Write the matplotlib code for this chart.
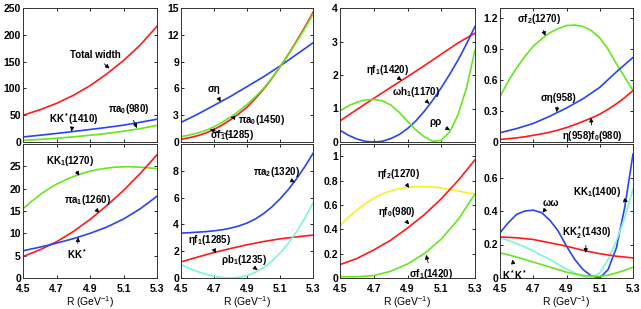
import matplotlib
matplotlib.use('Agg')
import matplotlib.pyplot as plt

plt.rcParams['font.family'] = ['Liberation Sans', 'DejaVu Sans']
plt.rcParams['font.weight'] = 'bold'
plt.rcParams['mathtext.fontset'] = 'custom'
plt.rcParams['mathtext.rm'] = 'Liberation Sans:bold'
plt.rcParams['mathtext.it'] = 'Liberation Sans:bold'
plt.rcParams['mathtext.bf'] = 'Liberation Sans:bold'
plt.rcParams['mathtext.default'] = 'regular'

## DATA (widths in MeV)
R9 = [4.5, 4.6, 4.7, 4.8, 4.9, 5.0, 5.1, 5.2, 5.3]
R17 = [4.5, 4.55, 4.6, 4.65, 4.7, 4.75, 4.8, 4.85, 4.9,
       4.95, 5.0, 5.05, 5.1, 5.15, 5.2, 5.25, 5.3]

# panel 1
total_width = [50, 60, 72, 87, 105, 127, 152, 181, 216]
kk_1410 = [9.4, 12.6, 16, 19.6, 23.3, 27.2, 31.4, 36.8, 42.5]
pia0_980 = [3, 4.8, 7, 9.6, 12.6, 16, 20, 25, 31]
# panel 2
sigma_eta = [2.2, 3.1, 4.1, 5.1, 6.2, 7.3, 8.5, 9.8, 11.1]
pia0_1450 = [0.6, 0.78, 1.0, 1.3, 1.7, 2.2, 2.8, 3.45, 4.2,
             5.05, 6.0, 7.15, 8.4, 9.75, 11.2, 12.7, 14.3]
sf1_1285 = [0.3, 0.48, 0.7, 1.0, 1.4, 1.9, 2.5, 3.15, 3.9,
            4.85, 5.9, 7.1, 8.4, 9.8, 11.3, 12.85, 14.5]
# panel 3
ef1_1420 = [0.63, 0.97, 1.3, 1.63, 1.95, 2.28, 2.62, 2.96, 3.25]
wh1_1170 = [0.35, 0.2, 0.09, 0.02, 0.0, 0.02, 0.1, 0.22, 0.4,
            0.63, 0.92, 1.25, 1.62, 2.02, 2.45, 2.93, 3.45]
rho_rho = [0.93, 1.08, 1.19, 1.255, 1.27, 1.23, 1.11, 0.89, 0.62,
           0.36, 0.15, 0.02, 0.05, 0.3, 0.82, 1.62, 2.75]
# panel 4
sf2_1270 = [0.44, 0.59, 0.72, 0.83, 0.93, 1.0, 1.06, 1.1, 1.13,
            1.135, 1.12, 1.08, 1.01, 0.9, 0.76, 0.63, 0.5]
se_958 = [0.09, 0.13, 0.18, 0.25, 0.33, 0.42, 0.53, 0.68, 0.82]
e958_f0 = [0.025, 0.032, 0.04, 0.051, 0.065, 0.079, 0.095, 0.116, 0.14,
           0.168, 0.2, 0.233, 0.27, 0.317, 0.37, 0.43, 0.5]
# panel 5
kk1_1270 = [15.5, 17.1, 18.6, 19.9, 21.0, 21.9, 22.7, 23.35, 23.9,
            24.3, 24.6, 24.8, 24.9, 24.9, 24.8, 24.65, 24.5]
pia1_1260 = [4.8, 6.3, 8.1, 10.4, 13.1, 16.2, 19.6, 23.4, 27.6]
kk_star = [6.1, 6.9, 7.8, 8.8, 10.0, 11.4, 13.2, 15.5, 18.3]
# panel 6
pia2_1320 = [3.35, 3.38, 3.42, 3.46, 3.52, 3.6, 3.72, 3.88, 4.1,
             4.4, 4.8, 5.3, 5.9, 6.6, 7.4, 8.3, 9.3]
ef1_1285 = [1.2, 1.56, 1.9, 2.2, 2.48, 2.72, 2.92, 3.07, 3.2]
rb1_1235 = [1.0, 0.72, 0.48, 0.28, 0.13, 0.03, 0.0, 0.05, 0.18,
            0.42, 0.78, 1.25, 1.85, 2.58, 3.45, 4.45, 5.6]
# panel 7
ef2_1270 = [0.43, 0.50, 0.56, 0.61, 0.655, 0.69, 0.715, 0.733, 0.745,
            0.75, 0.75, 0.747, 0.74, 0.728, 0.715, 0.70, 0.69]
ef0_980 = [0.11, 0.16, 0.23, 0.31, 0.41, 0.52, 0.65, 0.8, 0.97]
sf1_1420 = [0.01, 0.01, 0.02, 0.055, 0.115, 0.2, 0.32, 0.48, 0.69]
# panel 8
omega_omega = [0.27, 0.33, 0.38, 0.40, 0.405, 0.39, 0.345, 0.28, 0.19,
               0.11, 0.05, 0.012, 0.0, 0.05, 0.18, 0.42, 0.74]
kk1_1400 = [0.24, 0.225, 0.205, 0.185, 0.16, 0.135, 0.11, 0.08, 0.055,
            0.03, 0.008, 0.0, 0.03, 0.11, 0.22, 0.36, 0.53]
kk2_1430 = [0.245, 0.24, 0.23, 0.21, 0.19, 0.165, 0.145, 0.13, 0.12]
kstar_kstar = [0.15, 0.138, 0.125, 0.11, 0.095, 0.08, 0.065, 0.05, 0.035,
               0.024, 0.015, 0.011, 0.01, 0.017, 0.03, 0.046, 0.065]

RED = '#ff1a1a'
BLUE = '#2a44f0'
GREEN = '#66e622'
CYAN = '#7ff5d8'
YELLOW = '#f2f22a'

ARROW = dict(arrowstyle='-|>', color='k', lw=0.6, mutation_scale=6,
             shrinkA=1, shrinkB=0)

fig = plt.figure(figsize=(6.41, 3.09), dpi=100)
W, H = 641.0, 309.0
lefts = [23, 181, 340, 500]
widths = [134, 132, 135, 133]
row_top = [8, 144]
row_h = 134


def make_axes(row, col, ylim, yticks, yticklabels=None):
    ax = fig.add_axes([lefts[col] / W, 1 - (row_top[row] + row_h) / H,
                       widths[col] / W, row_h / H])
    ax.set_xlim(4.5, 5.3)
    ax.set_ylim(*ylim)
    ax.set_xticks([4.5, 4.7, 4.9, 5.1, 5.3])
    ax.set_yticks(yticks)
    if yticklabels is not None:
        ax.set_yticklabels(yticklabels)
    ax.tick_params(direction='in', top=True, right=True, length=2.5,
                   width=0.6, labelsize=7.5, pad=1.5)
    ax.tick_params(axis='x', pad=4)
    for s in ax.spines.values():
        s.set_color('#333333')
        s.set_linewidth(0.7)
    if row == 0:
        ax.set_xticklabels([])
    else:
        ax.set_xticklabels(['4.5', '4.7', '4.9', '5.1', '5.3'])
        ax.set_xlabel('R (GeV$^{-1}$)', fontsize=7.5, labelpad=0.5)
    return ax


def label(ax, text, tip, txt):
    ax.annotate(text, xy=tip, xytext=txt, ha='center', va='center',
                fontsize=7, arrowprops=ARROW)


LW = 1.2

# panel 1
ax = make_axes(0, 0, (0, 250), [0, 50, 100, 150, 200, 250])
ax.plot(R9, total_width, color=RED, lw=LW)
ax.plot(R9, kk_1410, color=BLUE, lw=LW)
ax.plot(R9, pia0_980, color=GREEN, lw=LW)
label(ax, 'Total width', (5.016, 137), (4.93, 162))
label(ax, 'KK$^*$(1410)', (4.79, 20), (4.8, 42))
label(ax, 'πa$_0$(980)', (5.18, 26), (5.13, 61))

# panel 2
ax = make_axes(0, 1, (0, 15), [0, 3, 6, 9, 12, 15])
ax.plot(R9, sigma_eta, color=BLUE, lw=LW)
ax.plot(R17, sf1_1285, color=RED, lw=LW)
ax.plot(R17, pia0_1450, color=GREEN, lw=LW)
label(ax, 'ση', (4.74, 4.5), (4.70, 5.9))
label(ax, 'πa$_0$(1450)', (4.80, 2.75), (4.99, 2.5))
label(ax, 'σf$_1$(1285)', (4.675, 1.4), (4.81, 0.75))

# panel 3
ax = make_axes(0, 2, (0, 4), [0, 1, 2, 3, 4])
ax.plot(R9, ef1_1420, color=RED, lw=LW)
ax.plot(R17, wh1_1170, color=BLUE, lw=LW)
ax.plot(R17, rho_rho, color=GREEN, lw=LW)
label(ax, 'ηf$_1$(1420)', (4.865, 1.84), (4.78, 2.16))
label(ax, 'ωh$_1$(1170)', (5.03, 1.14), (4.95, 1.5))
label(ax, 'ρρ', (5.152, 0.35), (5.067, 0.6))

# panel 4
ax = make_axes(0, 3, (0, 1.3), [0, 0.3, 0.6, 0.9, 1.2],
               ['0', '0.3', '0.6', '0.9', '1.2'])
ax.plot(R17, sf2_1270, color=GREEN, lw=LW)
ax.plot(R9, se_958, color=BLUE, lw=LW)
ax.plot(R17, e958_f0, color=RED, lw=LW)
label(ax, 'σf$_2$(1270)', (4.773, 1.03), (4.733, 1.19))
label(ax, 'ση(958)', (4.84, 0.29), (4.854, 0.43))
label(ax, 'η(958)f$_0$(980)', (5.047, 0.235), (5.057, 0.056))

# panel 5
ax = make_axes(1, 0, (0, 30), [0, 5, 10, 15, 20, 25])
ax.plot(R17, kk1_1270, color=GREEN, lw=LW)
ax.plot(R9, pia1_1260, color=RED, lw=LW)
ax.plot(R9, kk_star, color=BLUE, lw=LW)
label(ax, 'KK$_1$(1270)', (4.836, 22.9), (4.78, 26.3))
label(ax, 'πa$_1$(1260)', (4.955, 14.6), (4.884, 17.4))
label(ax, 'KK$^*$', (4.83, 9.1), (4.82, 5.3))

# panel 6
ax = make_axes(1, 1, (0, 10), [0, 2, 4, 6, 8])
ax.plot(R17, pia2_1320, color=BLUE, lw=LW)
ax.plot(R9, ef1_1285, color=RED, lw=LW)
ax.plot(R17, rb1_1235, color=CYAN, lw=LW)
label(ax, 'πa$_2$(1320)', (5.19, 7.14), (5.077, 7.9))
label(ax, 'ηf$_1$(1285)', (4.71, 1.85), (4.675, 2.82))
label(ax, 'ρb$_1$(1235)', (4.964, 0.6), (4.88, 1.35))

# panel 7
ax = make_axes(1, 2, (0, 1.1), [0, 0.2, 0.4, 0.6, 0.8, 1.0],
               ['0', '0.2', '0.4', '0.6', '0.8', '1'])
ax.plot(R17, ef2_1270, color=YELLOW, lw=LW)
ax.plot(R9, ef0_980, color=RED, lw=LW)
ax.plot(R9, sf1_1420, color=GREEN, lw=LW)
label(ax, 'ηf$_2$(1270)', (4.91, 0.74), (4.85, 0.85))
label(ax, 'ηf$_0$(980)', (4.91, 0.44), (4.84, 0.545))
label(ax, 'σf$_1$(1420)', (5.01, 0.19), (5.04, 0.034))

# panel 8
ax = make_axes(1, 3, (0, 0.8), [0, 0.2, 0.4, 0.6],
               ['0', '0.2', '0.4', '0.6'])
ax.plot(R17, omega_omega, color=BLUE, lw=LW)
ax.plot(R17, kk1_1400, color=CYAN, lw=LW)
ax.plot(R9, kk2_1430, color=RED, lw=LW)
ax.plot(R17, kstar_kstar, color=GREEN, lw=LW)
label(ax, 'ωω', (4.756, 0.39), (4.804, 0.45))
label(ax, 'KK$_1$(1400)', (5.27, 0.456), (5.083, 0.516))
label(ax, 'KK$_2^*$(1430)', (5.015, 0.15), (5.02, 0.27))
label(ax, 'K$^*$K$^*$', (4.575, 0.11), (4.59, 0.02))

fig.savefig('out.png', dpi=100)
